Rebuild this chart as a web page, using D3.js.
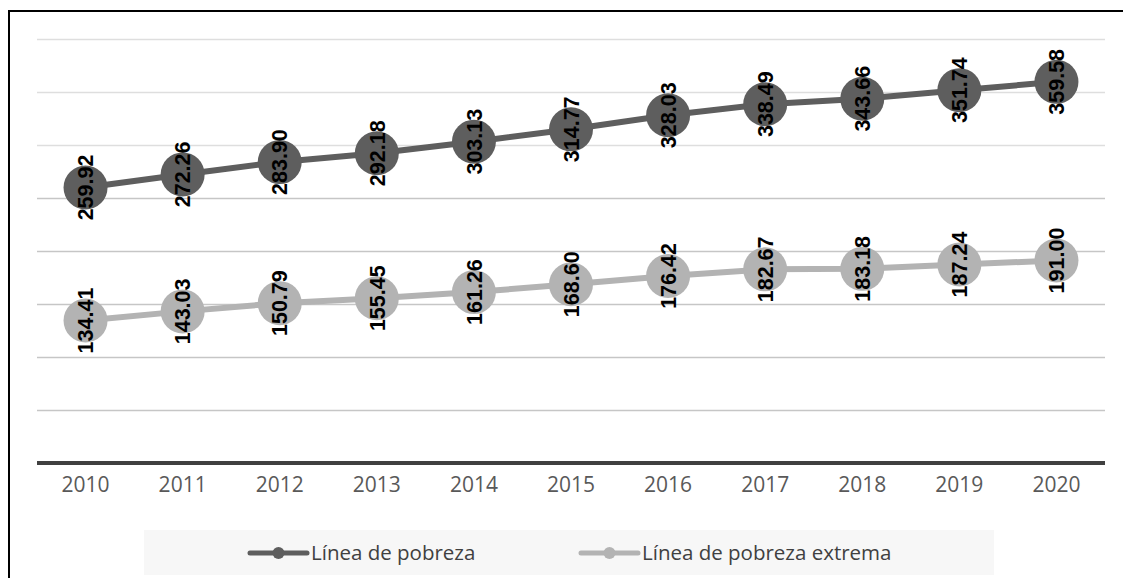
<!DOCTYPE html>
<html>
<head>
<meta charset="utf-8">
<script src="https://cdn.jsdelivr.net/npm/d3@7"></script>
<style>
  body { margin: 0; background: #fff; }
  svg { display: block; }
</style>
</head>
<body>
<svg id="chart"></svg>
<script>
/*
 *  Data
 */
var years = ["2010", "2011", "2012", "2013", "2014", "2015", "2016", "2017", "2018", "2019", "2020"];
var pobreza = [259.92, 272.26, 283.90, 292.18, 303.13, 314.77, 328.03, 338.49, 343.66, 351.74, 359.58];
var pobrezaExtrema = [134.41, 143.03, 150.79, 155.45, 161.26, 168.60, 176.42, 182.67, 183.18, 187.24, 191.00];
var seriesNames = ["Línea de pobreza", "Línea de pobreza extrema"];
var gridValues = [0, 50, 100, 150, 200, 250, 300, 350, 400];

// attributes of the canvas area
var width = 1123,
    height = 578;

var plot = { left: 37, right: 1105, top: 39, bottom: 463 };

var colors = ["#5e5e5e", "#b3b3b3"];

var svg = d3.select("#chart")
            .attr("width", width)
            .attr("height", height);

var x = d3.scaleBand()
          .domain(years)
          .range([plot.left, plot.right]);

var y = d3.scaleLinear()
          .domain([0, 400])
          .range([plot.bottom, plot.top]);

// outer frame (left and top only)
svg.append("path")
  .attr("d", "M9,578 V11 H1123")
  .style("fill", "none")
  .style("stroke", "#000")
  .style("stroke-width", 2);

// gridlines
svg.append("g")
  .selectAll("line")
  .data(gridValues.slice(1))
  .enter().append("line")
    .attr("x1", plot.left)
    .attr("x2", plot.right)
    .attr("y1", function(d) { return Math.round(y(d)) + 0.5; })
    .attr("y2", function(d) { return Math.round(y(d)) + 0.5; })
    .style("stroke", function(d) { return d >= 300 ? "#dedede" : "#c6c6c6"; })
    .style("stroke-width", 1.3);

// x axis
var xAxis = svg.append("g")
  .attr("transform", "translate(0," + y(0) + ")")
  .call(d3.axisBottom(x).tickSize(0).tickPadding(14));

xAxis.select(".domain")
  .attr("d", "M" + plot.left + ",0H" + plot.right)
  .style("stroke", "#404040")
  .style("stroke-width", 4);

xAxis.selectAll("text")
  .style("font-family", "'Open Sans', sans-serif")
  .style("font-size", "21px")
  .style("fill", "#595959");

// series
var series = [pobreza, pobrezaExtrema];

var line = d3.line()
  .x(function(d, i) { return x(years[i]) + x.bandwidth() / 2; })
  .y(function(d) { return y(d); });

series.forEach(function(values, s) {
  var g = svg.append("g");

  g.append("path")
    .datum(values)
    .attr("d", line)
    .style("fill", "none")
    .style("stroke", colors[s])
    .style("stroke-width", 6);

  g.selectAll("circle")
    .data(values)
    .enter().append("circle")
      .attr("cx", function(d, i) { return x(years[i]) + x.bandwidth() / 2; })
      .attr("cy", function(d) { return y(d); })
      .attr("r", 22)
      .style("fill", colors[s]);

  // rotated value labels, centred on the markers
  g.selectAll("text")
    .data(values)
    .enter().append("text")
      .attr("transform", function(d, i) {
        return "translate(" + (x(years[i]) + x.bandwidth() / 2) + "," + y(d) + ") rotate(-90)";
      })
      .attr("text-anchor", "middle")
      .attr("dy", "0.36em")
      .style("font-family", "'Liberation Sans', Arial, sans-serif")
      .style("font-weight", "bold")
      .style("font-size", "21.5px")
      .style("fill", "#000")
      .text(function(d) { return d.toFixed(2); });
});

// legend
var legend = svg.append("g");

legend.append("rect")
  .attr("x", 144)
  .attr("y", 530)
  .attr("width", 850)
  .attr("height", 45)
  .style("fill", "#f7f7f7");

var legendX = [250, 581];

seriesNames.forEach(function(name, s) {
  var lg = legend.append("g")
    .attr("transform", "translate(" + legendX[s] + ",553)");

  lg.append("line")
    .attr("x1", 0)
    .attr("x2", 57)
    .style("stroke", colors[s])
    .style("stroke-width", 5)
    .style("stroke-linecap", "round");

  lg.append("circle")
    .attr("cx", 28.5)
    .attr("r", 6)
    .style("fill", colors[s]);

  lg.append("text")
    .attr("x", 61)
    .attr("dy", "0.36em")
    .style("font-family", "'Open Sans', sans-serif")
    .style("font-size", "20.5px")
    .style("fill", "#404040")
    .text(name);
});
</script>
</body>
</html>
